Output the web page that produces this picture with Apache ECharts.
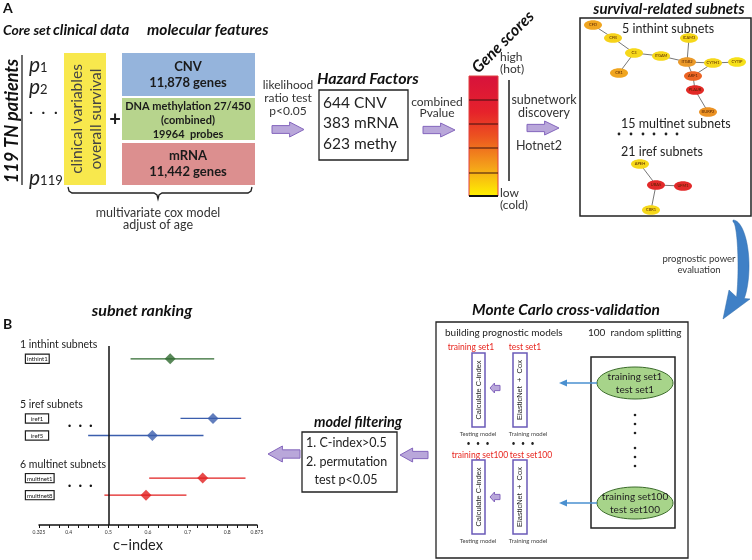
<!DOCTYPE html>
<html><head><meta charset="utf-8">
<script src="https://cdn.jsdelivr.net/npm/echarts@6/dist/echarts.min.js"></script>
<style>html,body{margin:0;padding:0;background:#fff}#c{width:752px;height:560px}</style>
</head><body><div id="c"></div>
<script>
// ---- forest plot data (panel B) ----
const rowCategories = ['_a','inthint1','_b','_c','_d','_e','_f','_g','iref1','dots1','iref5','_h','_i','_j','_k','multinet1','dots2','multinet8','_l','_m','_n'];
const subnets = ['inthint1','iref1','iref5','multinet1','multinet8'];
const subnetGroup = ['inthint','iref','iref','multinet','multinet'];
const cIndex = [0.656, 0.764, 0.611, 0.738, 0.595];
const ciLow  = [0.556, 0.682, 0.449, 0.603, 0.490];
const ciHigh = [0.767, 0.835, 0.740, 0.846, 0.697];
const groupNames = ['inthint','iref','multinet'];
const groupHeaders = ['1 inthint subnets','5 iref subnets','6 multinet subnets'];
const groupColors = ['#2f6a2f','#3b5ead','#e11f1f'];
const xTickLabels = ['0.325','0.4','0.5','0.6','0.7','0.8','0.875'];

const F = "Lato,'Open Sans',sans-serif";
const chart = echarts.init(document.getElementById('c'), null, {renderer:'canvas'});

// ---- diagram helpers ----
function T(x, y, text, o) {
  const st = Object.assign({text: text, fill: '#222', fontFamily: F, fontSize: 12, align: 'left', verticalAlign: 'middle'}, o || {});
  const el = {type: 'text', x: x, y: y, style: st, silent: true};
  if (st.rotation != null) { el.rotation = st.rotation; delete st.rotation; }
  return el;
}
function R(x, y, w, h, o) { return {type:'rect', shape:{x:x,y:y,width:w,height:h}, style:Object.assign({fill:'none', stroke:'#222', lineWidth:1.3}, o||{}), silent:true}; }
function L(x1, y1, x2, y2, o) { return {type:'line', shape:{x1:x1,y1:y1,x2:x2,y2:y2}, style:Object.assign({stroke:'#222', lineWidth:1.2}, o||{}), silent:true}; }
function P(points, o) { return {type:'polygon', shape:{points:points}, style:Object.assign({fill:'#222'}, o||{}), silent:true}; }
function PL(points, o) { return {type:'polyline', shape:{points:points}, style:Object.assign({stroke:'#222', lineWidth:1.3, fill:null}, o||{}), silent:true}; }
function E(cx, cy, rx, ry, o) { return {type:'ellipse', shape:{cx:cx,cy:cy,rx:rx,ry:ry}, style:Object.assign({fill:'#fff', stroke:'#222'}, o||{}), silent:true}; }
function arrow(x0, y0, x1, y1, dir) {
  const h = y1 - y0, cy = (y0 + y1) / 2, w = x1 - x0, b = h * 0.26;
  let pts;
  if (dir === 'right') {
    const xm = x0 + w * 0.55;
    pts = [[x0,cy-b],[xm,cy-b],[xm,y0],[x1,cy],[xm,y1],[xm,cy+b],[x0,cy+b]];
  } else {
    const xm = x1 - w * 0.55;
    pts = [[x1,cy-b],[xm,cy-b],[xm,y0],[x0,cy],[xm,y1],[xm,cy+b],[x1,cy+b]];
  }
  return P(pts, {fill:'#b9a7da', stroke:'#8466bd', lineWidth:1});
}
const BI = {fontWeight:'bold', fontStyle:'italic', fontSize:16, fill:'#111'};
const g = [];

// ---- Panel A ----
g.push(T(3, 8, 'A', {fontWeight:'bold', fontSize:14, fill:'#111'}));
g.push(T(3, 30, 'Core set', Object.assign({}, BI, {fontSize:14})));
g.push(T(53, 30, 'clinical data', Object.assign({}, BI, {fontSize:15})));
g.push(T(147, 30, 'molecular features', Object.assign({}, BI, {fontSize:15.5})));
g.push(T(12, 121, '119 TN patients', Object.assign({}, BI, {fontSize:18, align:'center', rotation:Math.PI/2})));
g.push(L(22, 55, 22, 185, {lineWidth:1.3}));
const pRich = {p:{fontStyle:'italic', fontSize:21, fontFamily:F, fill:'#222'}, n:{fontSize:13, fontFamily:F, fill:'#222', padding:[6,0,0,0]}};
g.push(T(29, 65, '{p|p}{n|1}', {rich:pRich}));
g.push(T(29, 87, '{p|p}{n|2}', {rich:pRich}));
g.push(T(29, 112, '·  ·  ·', {fontSize:16}));
g.push(T(29, 178, '{p|p}{n|119}', {rich:pRich}));
g.push(R(64, 53, 42, 132, {fill:'#f8e84d', stroke:'none'}));
g.push(T(77, 119, 'clinical variables', {fontSize:15.5, fill:'#444', align:'center', rotation:Math.PI/2}));
g.push(T(96, 119, 'overall survival', {fontSize:15.5, fill:'#444', align:'center', rotation:Math.PI/2}));
g.push(T(115, 120, '+', {fontSize:20, fontWeight:'bold', align:'center'}));
g.push(R(122, 53, 133, 43, {fill:'#95b4dc', stroke:'none'}));
g.push(R(122, 98, 133, 42, {fill:'#b7d48d', stroke:'none'}));
g.push(R(122, 143, 133, 42, {fill:'#dc8f8f', stroke:'none'}));
const BB = {fontWeight:'bold', fontSize:13, align:'center', fill:'#1a1a1a'};
g.push(T(188, 67, 'CNV', BB));
g.push(T(188, 83, '11,878 genes', BB));
g.push(T(188, 106, 'DNA methylation 27/450', Object.assign({}, BB, {fontSize:11})));
g.push(T(188, 120, '(combined)', Object.assign({}, BB, {fontSize:11})));
g.push(T(188, 134, '19964  probes', Object.assign({}, BB, {fontSize:11})));
g.push(T(188, 156, 'mRNA', BB));
g.push(T(188, 172, '11,442 genes', BB));
g.push(PL([[68,187],[69,191],[72,193],[154,193],[157,195],[158,199],[159,195],[162,193],[248,193],[251,191],[252,187]]));
g.push(T(158, 213, 'multivariate cox model', {fontSize:12.5, align:'center', fill:'#333'}));
g.push(T(158, 225, 'adjust of age', {fontSize:12.5, align:'center', fill:'#333'}));

g.push(T(288, 85, 'likelihood', {fontSize:12, align:'center', fill:'#333'}));
g.push(T(288, 98, 'ratio test', {fontSize:12, align:'center', fill:'#333'}));
g.push(T(288, 111, 'p<0.05', {fontSize:12, align:'center', fill:'#333'}));
g.push(arrow(272, 122, 304, 137, 'right'));
g.push(T(317, 79, 'Hazard Factors', BI));
g.push(R(319, 90, 89, 70, {lineWidth:1.3}));
g.push(T(323, 103, '644 CNV', {fontSize:15.5, fill:'#222'}));
g.push(T(323, 123, '383 mRNA', {fontSize:15.5, fill:'#222'}));
g.push(T(323, 144, '623 methy', {fontSize:15.5, fill:'#222'}));
g.push(T(437, 102, 'combined', {fontSize:12, align:'center', fill:'#333'}));
g.push(T(437, 113, 'Pvalue', {fontSize:12, align:'center', fill:'#333'}));
g.push(arrow(423, 123, 455, 137, 'right'));

g.push(R(469, 76, 29, 120, {stroke:'#e04040', lineWidth:1, fill:{type:'linear', x:0, y:0, x2:0, y2:1, colorStops:[
  {offset:0, color:'#d7123c'},{offset:0.3, color:'#e6222b'},{offset:0.5, color:'#ec5220'},{offset:0.75, color:'#f4a01a'},{offset:1, color:'#fff200'}]}}));
[100, 124, 148, 173].forEach(function (y) { g.push(L(469, y, 498, y, {stroke:'#3a1010', lineWidth:1})); });
g.push(L(469, 196, 498, 196, {stroke:'#111', lineWidth:2}));
g.push(T(503, 42, 'Gene scores', Object.assign({}, BI, {align:'center', rotation:Math.PI/4})));
g.push(T(500, 57, 'high', {fontSize:12, fill:'#333'}));
g.push(T(500, 69, '(hot)', {fontSize:12, fill:'#333'}));
g.push(T(500, 193, 'low', {fontSize:12, fill:'#333'}));
g.push(T(500, 205, '(cold)', {fontSize:12, fill:'#333'}));
g.push(L(509, 80, 509, 181, {stroke:'#555', lineWidth:2}));
g.push(T(544, 100, 'subnetwork', {fontSize:12.5, align:'center', fill:'#333'}));
g.push(T(544, 113, 'discovery', {fontSize:12.5, align:'center', fill:'#333'}));
g.push(arrow(527, 121, 559, 135, 'right'));
g.push(T(539, 146, 'Hotnet2', {fontSize:12.5, align:'center', fill:'#333'}));

g.push(T(669, 9, 'survival-related subnets', Object.assign({}, BI, {fontSize:15, align:'center'})));
g.push(R(580, 18, 171, 198, {lineWidth:1.5}));
g.push(T(622, 29, '5 inthint subnets', {fontSize:12.5, fill:'#222'}));
g.push(T(621, 124, '15 multinet subnets', {fontSize:12.5, fill:'#222'}));
[619, 631, 643, 654, 666, 677].forEach(function (x) { g.push({type:'circle', shape:{cx:x, cy:134, r:1.4}, style:{fill:'#222'}, silent:true}); });
g.push(T(621, 152, '21 iref subnets', {fontSize:12.5, fill:'#222'}));
const nodes = {
  CFD:[593,25,'#f0a520'], CFB:[613,38,'#f6d21a'], C3:[634,53,'#f6d81a'], CR1:[619,73,'#f0a520'],
  ITGAM:[661,56,'#f6d81a'], ITGB2:[687,62,'#eb9a2a'], ICAM3:[689,38,'#f6d81a'], CYTH1:[713,63,'#f6d81a'],
  CYTIP:[737,62,'#f6e01a'], ARF1:[693,76,'#ec6424'], PLAUR:[695,90,'#e22a26'], BURP2:[708,112,'#eb9224'],
  APEH:[640,164,'#f6d81a'], UBA5:[656,185,'#e22a2a'], UFM1:[683,186,'#e22a2a'], CBR1:[651,210,'#f6d81a']
};
const edges = [['CFD','CFB'],['CFB','C3'],['C3','CR1'],['C3','ITGAM'],['ITGAM','ITGB2'],['ITGB2','ICAM3'],['ITGB2','CYTH1'],
  ['CYTH1','CYTIP'],['ITGB2','ARF1'],['ARF1','CYTH1'],['ARF1','PLAUR'],['PLAUR','BURP2'],['APEH','UBA5'],['UBA5','UFM1'],['UBA5','CBR1']];
edges.forEach(function (e) { const a = nodes[e[0]], b = nodes[e[1]]; g.push(L(a[0], a[1], b[0], b[1], {stroke:'#777', lineWidth:1})); });
Object.keys(nodes).forEach(function (k) {
  const n = nodes[k];
  g.push(E(n[0], n[1], 9, 4.8, {fill:n[2], stroke:'none'}));
  g.push(T(n[0], n[1], k, {fontSize:4, align:'center', fill:'#552200'}));
});

// curved blue arrow
(function () {
  const cx = 733, cy = 266, outer = [], inner = [];
  for (let d = -90; d <= 45; d += 5) {
    const t = d * Math.PI / 180;
    outer.push([cx + 16 * Math.cos(t), cy + 46 * Math.sin(t)]);
    inner.push([cx + 5 * Math.cos(t), cy + 44 * Math.sin(t)]);
  }
  const pts = outer.concat([[750, 299], [723, 319], [729, 290]]).concat(inner.reverse());
  g.push(P(pts, {fill:'#3f80c6', stroke:'#2f6aa8', lineWidth:0.5}));
})();
g.push(T(699, 259, 'prognostic power', {fontSize:9.5, align:'center', fill:'#333'}));
g.push(T(699, 270, 'evaluation', {fontSize:9.5, align:'center', fill:'#333'}));

// ---- Panel B ----
g.push(T(3, 324, 'B', {fontWeight:'bold', fontSize:14, fill:'#111'}));
g.push(T(142, 311, 'subnet ranking', Object.assign({}, BI, {align:'center'})));
g.push(arrow(268, 446, 300, 462, 'left'));
g.push(T(358, 422, 'model filtering', Object.assign({}, BI, {fontSize:14.5, align:'center'})));
g.push(R(302, 432, 95, 60, {lineWidth:1.3}));
g.push(T(306, 443, '1. C-index>0.5', {fontSize:12.5, fill:'#222'}));
g.push(T(306, 462, '2. permutation', {fontSize:12.5, fill:'#222'}));
g.push(T(346, 480, 'test p<0.05', {fontSize:12.5, fill:'#222', align:'center'}));
g.push(arrow(400, 448, 428, 462, 'left'));

g.push(T(566, 310, 'Monte Carlo cross-validation', Object.assign({}, BI, {fontSize:15.5, align:'center'})));
g.push(R(436, 322, 252, 236, {lineWidth:1.3}));
g.push(T(445, 333, 'building prognostic models', {fontSize:10, fill:'#222'}));
g.push(T(588, 333, '100  random splitting', {fontSize:10, fill:'#222'}));
const RED = {fontSize:8.5, fill:'#e8261f', align:'center'};
g.push(T(471, 347, 'training set1', RED));
g.push(T(525, 347, 'test set1', RED));
g.push(T(480, 455, 'training set100', RED));
g.push(T(531, 455, 'test set100', RED));
[[353, 388, 434, 444], [460, 497, 541, null]].forEach(function (r, i) {
  const y0 = r[0];
  g.push(R(472, y0, 13, 74, {stroke:'#6a5ab8', lineWidth:1.5, fill:'#fff'}));
  g.push(R(513, y0, 14, 74, {stroke:'#6a5ab8', lineWidth:1.5, fill:'#fff'}));
  g.push(T(478.5, y0 + 37, 'Calculate C-index', {fontFamily:"'Liberation Sans',Arial,sans-serif", fontSize:7.5, align:'center', fill:'#222', rotation:Math.PI/2}));
  g.push(T(520, y0 + 37, 'ElasticNet  +  Cox', {fontFamily:"'Liberation Sans',Arial,sans-serif", fontSize:7.5, align:'center', fill:'#222', rotation:Math.PI/2}));
  g.push(arrow(490, r[1] - 5, 500, r[1] + 5, 'left'));
  g.push(T(478, r[2], 'Testing model', {fontSize:6, align:'center', fill:'#444'}));
  g.push(T(528, r[2], 'Training model', {fontSize:6, align:'center', fill:'#444'}));
  if (r[3]) {
    g.push(T(478, r[3], '•   •   •', {fontSize:7, align:'center', fill:'#222'}));
    g.push(T(523, r[3], '•   •   •', {fontSize:7, align:'center', fill:'#222'}));
  }
});
g.push(R(591, 357, 84, 171, {lineWidth:1.5}));
[[383, 'training set1', 'test set1'], [503, 'training set100', 'test set100']].forEach(function (r) {
  g.push(E(635, r[0], 38, 16, {fill:'#a7d48a', stroke:'#3b6b2b', lineWidth:1}));
  g.push(T(635, r[0] - 6, r[1], {fontSize:10, align:'center', fill:'#222'}));
  g.push(T(635, r[0] + 7, r[2], {fontSize:10, align:'center', fill:'#222'}));
  g.push(L(597, r[0], 565, r[0], {stroke:'#4a90d0', lineWidth:1.5}));
  g.push(P([[559, r[0]], [567, r[0] - 3.5], [567, r[0] + 3.5]], {fill:'#4a90d0'}));
});
[415, 424, 433, 448, 457, 466].forEach(function (y) { g.push({type:'circle', shape:{cx:635, cy:y, r:1.3}, style:{fill:'#222'}, silent:true}); });

// ---- forest plot: axis label styles ----
const measureCtx = document.createElement('canvas').getContext('2d');
measureCtx.font = '6px ' + F;
const boxInner = 22;
const labelRich = {
  h: {fontSize: 10.5, lineHeight: 14, color: '#222', fontFamily: F},
  sp: {width: 6, lineHeight: 14, fontSize: 6},
  sp2: {width: 48, fontSize: 6},
  e: {lineHeight: 14, fontSize: 6},
  d: {fontSize: 9, color: '#111'}
};
subnets.forEach(function (s, i) {
  const w = measureCtx.measureText(s).width;
  const pad = Math.max(1, (boxInner - w) / 2);
  labelRich['b' + i] = {fontSize: 6, lineHeight: 14, color: '#111', fontFamily: F, borderColor: '#222', borderWidth: 1.2,
    padding: [1.5, pad, 0.5, pad], backgroundColor: '#fff'};
});

const barData = subnets.map(function (s, i) { return [ciLow[i], ciHigh[i], s, groupNames.indexOf(subnetGroup[i])]; });
const pointData = subnets.map(function (s, i) {
  return {value: [cIndex[i], s], itemStyle: {color: groupColors[groupNames.indexOf(subnetGroup[i])]}};
});

const option = {
  backgroundColor: '#fff',
  animation: false,
  grid: {left: 39, right: 495, top: 346, bottom: 35, containLabel: false},
  xAxis: {
    type: 'value', min: 0.325, max: 0.875, interval: 0.025,
    axisLine: {show: true, lineStyle: {color: '#111', width: 1.5}},
    axisTick: {show: true, length: 3, lineStyle: {color: '#111', width: 1}},
    splitLine: {show: false},
    axisLabel: {fontSize: 5, color: '#333', margin: 5, fontFamily: F,
      formatter: function (v) { const s = String(+(+v).toFixed(3)); return xTickLabels.indexOf(s) >= 0 ? s : ''; }},
    name: 'c\u2212index', nameLocation: 'middle', nameGap: 13,
    nameTextStyle: {fontSize: 14.5, color: '#222', fontFamily: F, padding: [0, 20, 0, 0]}
  },
  yAxis: {
    type: 'category', inverse: true, data: rowCategories,
    axisLine: {show: false}, axisTick: {show: false}, splitLine: {show: false},
    axisLabel: {
      interval: 0, align: 'left', margin: 19,
      formatter: function (v) {
        if (v.charAt(0) === '_') return '';
        if (v.indexOf('dots') === 0) return '{sp2| }{d|\u2022   \u2022   \u2022}';
        const i = subnets.indexOf(v);
        const gi = groupNames.indexOf(subnetGroup[i]);
        if (subnetGroup.indexOf(subnetGroup[i]) === i) return '{h|' + groupHeaders[gi] + '}\n{sp| }{b' + i + '|' + v + '}\n{e| }';
        return '{sp| }{b' + i + '|' + v + '}';
      },
      rich: labelRich
    }
  },
  series: [
    {
      type: 'custom', data: barData, encode: {x: [0, 1], y: 2},
      renderItem: function (params, api) {
        const a = api.coord([api.value(0), api.value(2)]);
        const b = api.coord([api.value(1), api.value(2)]);
        return {type: 'line', shape: {x1: a[0], y1: a[1], x2: b[0], y2: b[1]},
          style: {stroke: groupColors[api.value(3)], lineWidth: 1.3}};
      },
      z: 2
    },
    {
      type: 'scatter', data: pointData, symbol: 'diamond', symbolSize: [11, 11], z: 3,
      markLine: {silent: true, symbol: 'none', label: {show: false}, animation: false,
        lineStyle: {color: '#111', width: 1.5, type: 'solid'}, data: [{xAxis: 0.5}]}
    }
  ],
  graphic: {elements: g}
};
chart.setOption(option);
</script></body></html>
